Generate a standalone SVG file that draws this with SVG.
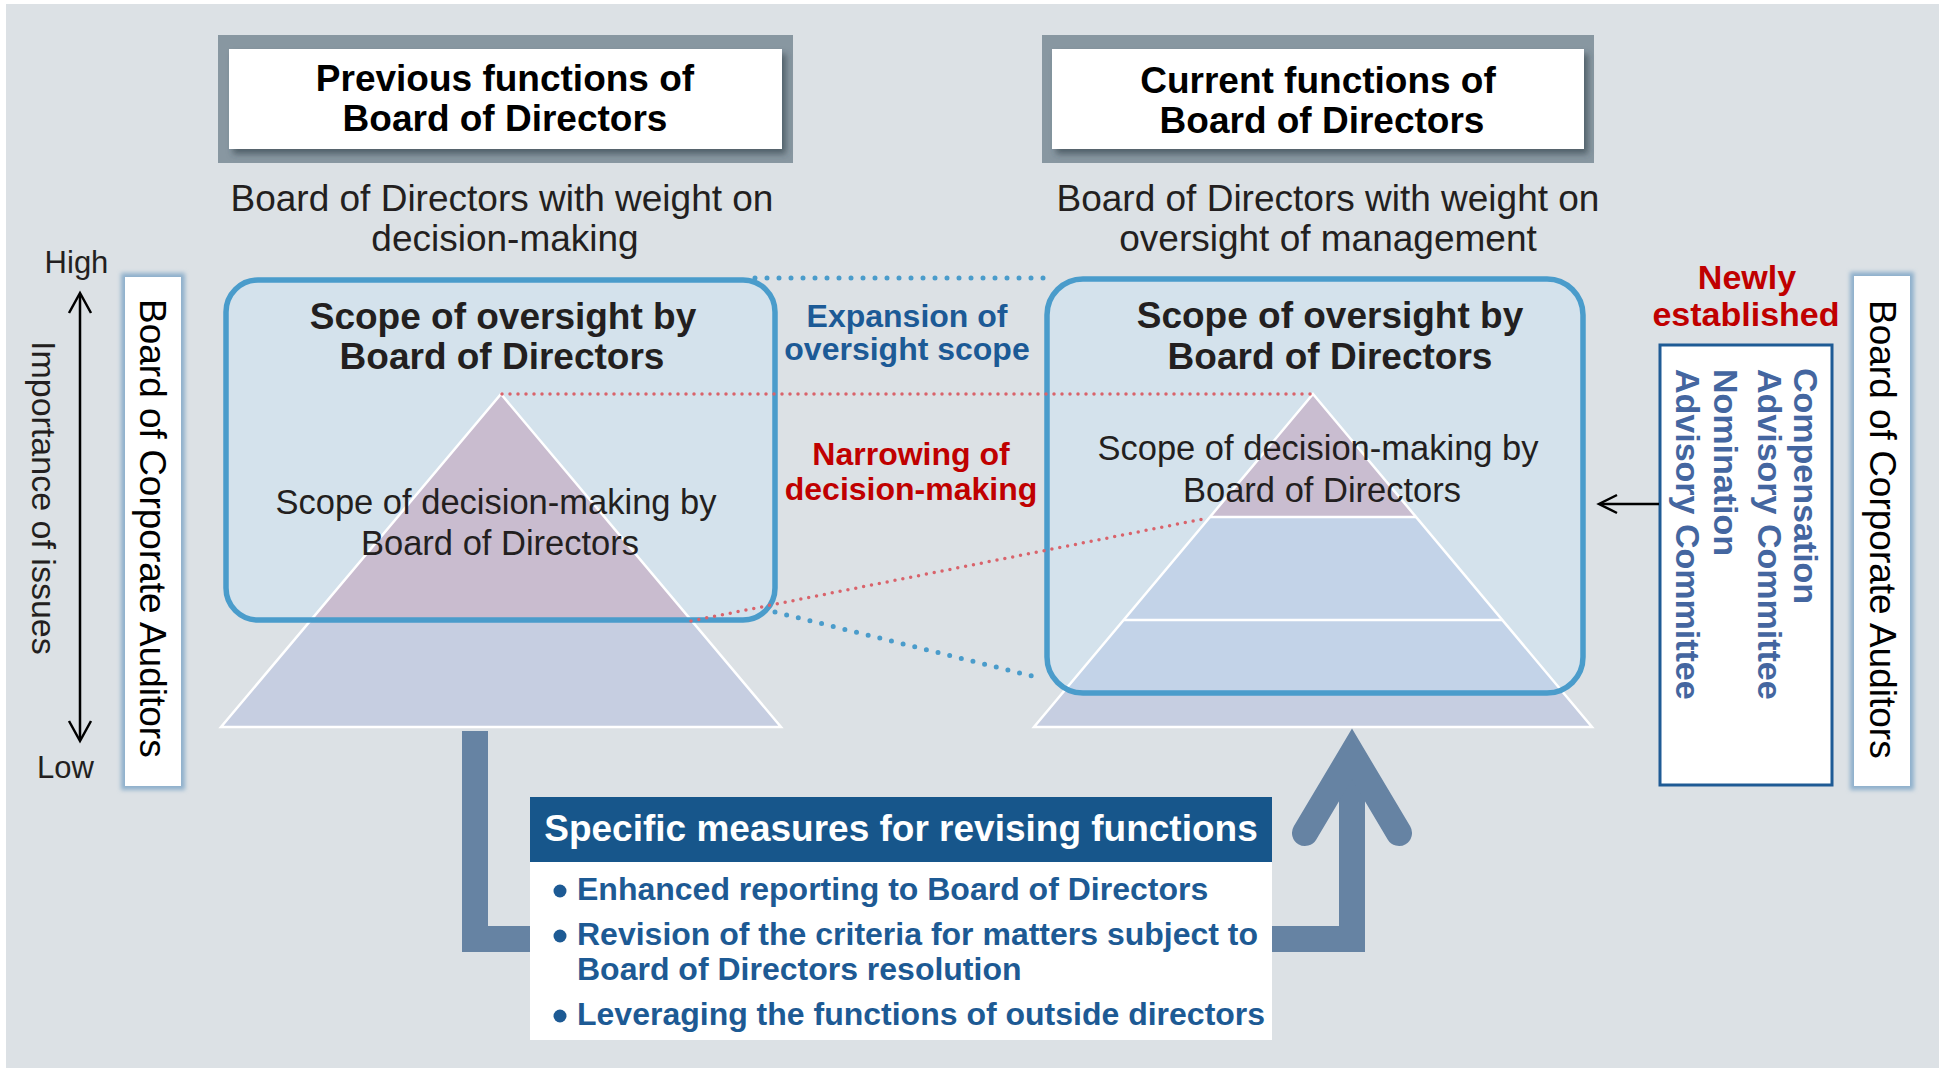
<svg xmlns="http://www.w3.org/2000/svg" width="1943" height="1068" viewBox="0 0 1943 1068">
<defs>
<style>
text{font-family:"Liberation Sans",Arial,sans-serif;}
.hd{font-size:37px;font-weight:bold;fill:#000;text-anchor:middle}
.sub{font-size:37px;fill:#231f20;text-anchor:middle}
.sc{font-size:37px;font-weight:bold;fill:#231f20;text-anchor:middle}
.dm{font-size:34.5px;fill:#231f20;text-anchor:middle}
.blu{font-size:32px;font-weight:bold;fill:#1c5a96;text-anchor:middle}
.red{font-size:32px;font-weight:bold;fill:#c00000;text-anchor:middle}
.nw{font-size:34px;font-weight:bold;fill:#c00000;text-anchor:middle}
.bca{font-size:37px;fill:#000}
.imp{font-size:34px;fill:#231f20}
.hl{font-size:31px;fill:#231f20;text-anchor:middle}
.cm{font-size:34px;font-weight:bold;fill:#4466a0}
.mh{font-size:37px;font-weight:bold;fill:#fff;text-anchor:middle}
.bl{font-size:32px;font-weight:bold;fill:#1d5a94}
.frame{fill:#8897a1}
.box{fill:none;stroke:#4a9ccb;stroke-width:5.5}
.pyw{stroke:#fff;stroke-width:2.5;fill:none;stroke-linejoin:miter}
.dotb{stroke:#4a9ccb;stroke-width:5;stroke-dasharray:0 12;stroke-linecap:round;fill:none}
.dotr{stroke:#d9636b;stroke-width:3.5;stroke-dasharray:0 8;stroke-linecap:round;fill:none}
.big{stroke:#6683a3;stroke-width:26;fill:none;stroke-linejoin:miter}
.thin{stroke:#000;stroke-width:2.5;fill:none}
</style>
<filter id="sh" x="-10%" y="-20%" width="130%" height="160%"><feDropShadow dx="4" dy="5" stdDeviation="3" flood-color="#2b3a44" flood-opacity="0.6"/></filter>
<filter id="glow" x="-30%" y="-5%" width="160%" height="110%"><feGaussianBlur stdDeviation="2"/></filter>
<clipPath id="cL"><rect x="226" y="280" width="549" height="340" rx="32"/></clipPath>
<clipPath id="cR"><rect x="1047" y="279" width="536" height="414" rx="36"/></clipPath>
</defs>

<rect x="6" y="4" width="1933" height="1064" fill="#dce1e5"/>

<g id="header-previous">
<rect class="frame" x="218" y="35" width="575" height="128"/>
<rect x="229" y="49" width="553" height="100" fill="#fff" filter="url(#sh)"/>
<text class="hd" x="505" y="91">Previous functions of</text>
<text class="hd" x="505" y="131">Board of Directors</text>
</g>

<g id="header-current">
<rect class="frame" x="1042" y="35" width="552" height="128"/>
<rect x="1052" y="49" width="532" height="100" fill="#fff" filter="url(#sh)"/>
<text class="hd" x="1318" y="93">Current functions of</text>
<text class="hd" x="1322" y="133">Board of Directors</text>
</g>

<g id="subtitle-previous">
<text class="sub" x="502" y="211">Board of Directors with weight on</text>
<text class="sub" x="505" y="251">decision-making</text>
</g>

<g id="subtitle-current">
<text class="sub" x="1328" y="211">Board of Directors with weight on</text>
<text class="sub" x="1328" y="251">oversight of management</text>
</g>

<g id="axis-labels">
<text class="hl" x="76.5" y="273">High</text>
<text class="hl" x="65.5" y="778">Low</text>
<text class="imp" transform="translate(32,341) rotate(90)">Importance of issues</text>
</g>

<g id="auditors-left">
<rect x="121" y="273" width="64" height="517" fill="#8fb0cc" filter="url(#glow)"/>
<rect x="125" y="277" width="56" height="509" fill="#fff"/>
<text class="bca" transform="translate(140,299) rotate(90)">Board of Corporate Auditors</text>
</g>

<g id="auditors-right">
<rect x="1850" y="272" width="64" height="518" fill="#8fb0cc" filter="url(#glow)"/>
<rect x="1854" y="276" width="56" height="510" fill="#fff"/>
<text class="bca" transform="translate(1870,300) rotate(90)">Board of Corporate Auditors</text>
</g>

<g id="scope-previous">
<rect x="226" y="280" width="549" height="340" rx="32" fill="#d4e2ec"/>
<polygon points="501,394 781,727 221,727" fill="#c6cee1"/>
<polygon points="501,394 781,727 221,727" fill="#c9bccf" clip-path="url(#cL)"/>
<polygon class="pyw" points="501,394 781,727 221,727"/>
<rect class="box" x="226" y="280" width="549" height="340" rx="32"/>
<text class="sc" x="503" y="329">Scope of oversight by</text>
<text class="sc" x="502" y="369">Board of Directors</text>
<text class="dm" x="496" y="514">Scope of decision-making by</text>
<text class="dm" x="500" y="555">Board of Directors</text>
</g>

<g id="scope-current">
<rect x="1047" y="279" width="536" height="414" rx="36" fill="#d4e2ec"/>
<polygon points="1313,394 1592,727 1034,727" fill="#c6cee1"/>
<polygon points="1313,394 1592,727 1034,727" fill="#c3d3e8" clip-path="url(#cR)"/>
<polygon points="1313,394 1416,517 1210,517" fill="#c9bdd0"/>
<polygon class="pyw" points="1313,394 1592,727 1034,727"/>
<line class="pyw" x1="1210" y1="517" x2="1416" y2="517"/>
<line class="pyw" x1="1124" y1="620" x2="1502" y2="620"/>
<rect class="box" x="1047" y="279" width="536" height="414" rx="36"/>
<text class="sc" x="1330" y="328">Scope of oversight by</text>
<text class="sc" x="1330" y="369">Board of Directors</text>
<text class="dm" x="1318" y="460">Scope of decision-making by</text>
<text class="dm" x="1322" y="502">Board of Directors</text>
</g>

<g id="label-expansion">
<text class="blu" x="907" y="327">Expansion of</text>
<text class="blu" x="907" y="360">oversight scope</text>
</g>

<g id="label-narrowing">
<text class="red" x="911" y="465">Narrowing of</text>
<text class="red" x="911" y="500">decision-making</text>
</g>

<g id="label-newly">
<text class="nw" x="1747" y="289">Newly</text>
<text class="nw" x="1746" y="326">established</text>
</g>

<g id="committees">
<rect x="1660" y="345" width="172" height="440" fill="#fff" stroke="#1f5b95" stroke-width="3"/>
<text class="cm" transform="translate(1794,368) rotate(90)">Compensation</text>
<text class="cm" transform="translate(1758,369) rotate(90)">Advisory Committee</text>
<text class="cm" transform="translate(1714,369) rotate(90)">Nomination</text>
<text class="cm" transform="translate(1676,369) rotate(90)">Advisory Committee</text>
</g>

<g id="connectors">
<line class="dotb" x1="755" y1="278" x2="1053" y2="278"/>
<line class="dotb" x1="775" y1="612" x2="1040" y2="678"/>
<line class="dotr" x1="502" y1="394" x2="1311" y2="394"/>
<line class="dotr" x1="691" y1="621" x2="1208" y2="518"/>
<path class="big" d="M475,731 V939 H532"/>
<path class="big" d="M1270,939 H1352 V770"/>
<path class="big" d="M1305,833 L1352,754 L1399,833" stroke-linecap="round"/>
<path class="thin" stroke-width="3" d="M80,294 V740"/>
<path class="thin" stroke-width="3" d="M69,313 L80,293 L91,313"/>
<path class="thin" stroke-width="3" d="M69,721 L80,741 L91,721"/>
<path class="thin" d="M1659,504 H1600"/>
<path class="thin" d="M1617,495 L1599,504 L1617,513"/>
</g>

<g id="measures">
<rect x="530" y="797" width="742" height="65" fill="#17568b"/>
<rect x="530" y="862" width="742" height="178" fill="#fff"/>
<text class="mh" x="901" y="841">Specific measures for revising functions</text>
<circle cx="560" cy="891" r="6.5" fill="#1d5a94"/>
<circle cx="560" cy="936" r="6.5" fill="#1d5a94"/>
<circle cx="560" cy="1016" r="6.5" fill="#1d5a94"/>
<text class="bl" x="577" y="900">Enhanced reporting to Board of Directors</text>
<text class="bl" x="577" y="945">Revision of the criteria for matters subject to</text>
<text class="bl" x="577" y="980">Board of Directors resolution</text>
<text class="bl" x="577" y="1025">Leveraging the functions of outside directors</text>
</g>
</svg>
